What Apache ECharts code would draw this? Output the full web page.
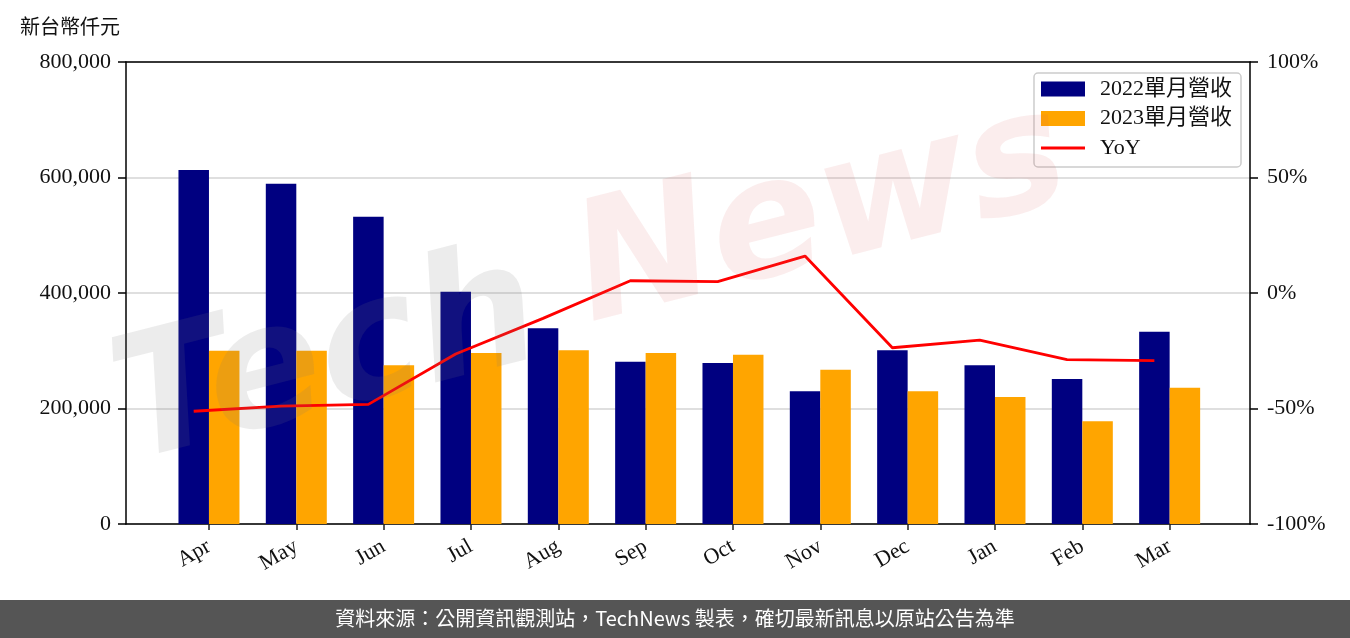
<!DOCTYPE html>
<html><head><meta charset="utf-8">
<script src="https://cdn.jsdelivr.net/npm/echarts@6/dist/echarts.min.js"></script>
<style>html,body{margin:0;padding:0;background:#fff}#c{width:1350px;height:638px}</style>
</head><body><div id="c"></div>
<script>
const months = ['Apr','May','Jun','Jul','Aug','Sep','Oct','Nov','Dec','Jan','Feb','Mar'];
const rev2022 = [613000, 589000, 532000, 402000, 339000, 281000, 279000, 230000, 301000, 275000, 251000, 333000];
const rev2023 = [300000, 300000, 275000, 296000, 301000, 296000, 293000, 267000, 230000, 220000, 178000, 236000];
const yoy = [-51.2, -49.0, -48.2, -26.4, -11.0, 5.3, 4.9, 16.0, -23.7, -20.4, -28.8, -29.3];
const leftTicks = [0, 200000, 400000, 600000, 800000];
const rightTicks = [-100, -50, 0, 50, 100];
const seriesNames = ['2022單月營收', '2023單月營收', 'YoY'];

const LATIN = "'Liberation Serif', 'Noto Sans CJK TC', serif";
const LINE_SHIFT = -0.175; // YoY points sit over the 2022 bar centres
const idx = months.map((m, i) => i);

function commas(v) { return String(v).replace(/\B(?=(\d{3})+(?!\d))/g, ','); }

const chart = echarts.init(document.getElementById('c'), null, {renderer: 'canvas'});
chart.setOption({
  animation: false,
  backgroundColor: '#ffffff',
  grid: {left: 126, right: 100, top: 62, bottom: 114, containLabel: false},
  legend: {
    right: 109, top: 73, orient: 'vertical',
    itemWidth: 44, itemHeight: 15, itemGap: 7.5,
    padding: [5, 9, 8, 7],
    borderColor: '#cccccc', borderWidth: 1.5, borderRadius: 4,
    backgroundColor: 'rgba(255,255,255,0.8)',
    symbolKeepAspect: true,
    textStyle: {fontFamily: LATIN, fontSize: 22, color: '#111', padding: [0, 0, 0, 10]},
    data: [
      {name: seriesNames[0], icon: 'rect'},
      {name: seriesNames[1], icon: 'rect'},
      {name: seriesNames[2], icon: 'path://M0,0H44V3H0Z'}
    ]
  },
  xAxis: [{
    type: 'value', min: -0.95, max: 11.92, position: 'bottom',
    axisLine: {show: true, onZero: false, lineStyle: {color: '#000', width: 1.5}},
    axisTick: {show: true, customValues: idx, length: 6, lineStyle: {color: '#222', width: 1.5}},
    axisLabel: {customValues: idx, formatter: v => months[Math.round(v)], rotate: 30, margin: 21,
      fontFamily: LATIN, fontSize: 22, color: '#111'},
    splitLine: {show: false}
  }, {
    type: 'value', min: -0.95, max: 11.92, position: 'top',
    axisLine: {show: true, onZero: false, lineStyle: {color: '#000', width: 1.5}},
    axisTick: {show: false}, axisLabel: {show: false}, splitLine: {show: false}
  }],
  yAxis: [{
    type: 'value', min: leftTicks[0], max: leftTicks[leftTicks.length - 1], interval: 200000, position: 'left',
    axisLine: {show: true, onZero: false, lineStyle: {color: '#000', width: 1.5}},
    axisTick: {show: true, length: 8, lineStyle: {color: '#000', width: 1.5}},
    axisLabel: {formatter: v => commas(v), fontFamily: LATIN, fontSize: 22, color: '#111', margin: 15},
    splitLine: {show: true, lineStyle: {color: '#d4d4d4', width: 1.5}}
  }, {
    type: 'value', min: rightTicks[0], max: rightTicks[rightTicks.length - 1], interval: 50, position: 'right',
    axisLine: {show: true, onZero: false, lineStyle: {color: '#000', width: 1.5}},
    axisTick: {show: true, length: 8, lineStyle: {color: '#000', width: 1.5}},
    axisLabel: {formatter: v => v + '%', fontFamily: LATIN, fontSize: 22, color: '#111', margin: 17},
    splitLine: {show: false}
  }],
  series: [{
    name: seriesNames[0], type: 'bar', xAxisIndex: 0, yAxisIndex: 0,
    barWidth: 30.5, barGap: '0%',
    itemStyle: {color: '#000080'},
    data: rev2022.map((v, i) => [i, v])
  }, {
    name: seriesNames[1], type: 'bar', xAxisIndex: 0, yAxisIndex: 0,
    barWidth: 30.5, barGap: '0%',
    itemStyle: {color: '#FFA500'},
    data: rev2023.map((v, i) => [i, v])
  }, {
    name: seriesNames[2], type: 'line', xAxisIndex: 0, yAxisIndex: 1,
    symbol: 'none', showSymbol: false, z: 5,
    lineStyle: {color: '#FF0000', width: 2.8},
    itemStyle: {color: '#FF0000'},
    data: yoy.map((v, i) => [i + LINE_SHIFT, v])
  }],
  graphic: [
    {type: 'text', left: 20, top: 16, z: 10,
      style: {text: '新台幣仟元', fontFamily: "'Noto Sans CJK TC', sans-serif", fontSize: 20, fill: '#111'}},
    {type: 'text', x: 140, y: 500, rotation: 0.25, z: 100, silent: true,
      style: {text: 'Tech', fontFamily: "'DejaVu Sans'", fontStyle: 'italic', fontWeight: 'bold', fontSize: 170,
        fill: 'rgba(120,120,120,0.14)', textVerticalAlign: 'bottom'}},
    {type: 'text', x: 600, y: 360, rotation: 0.25, z: 100, silent: true,
      style: {text: 'News', fontFamily: "'DejaVu Sans'", fontStyle: 'italic', fontWeight: 'bold', fontSize: 165,
        fill: 'rgba(215,90,90,0.11)', textVerticalAlign: 'bottom'}},
    {type: 'rect', left: 0, top: 600, z: 10,
      shape: {width: 1350, height: 38}, style: {fill: '#555555'}},
    {type: 'text', left: 'center', top: 608, z: 11,
      style: {text: '資料來源：公開資訊觀測站，TechNews 製表，確切最新訊息以原站公告為準',
        fontFamily: "'Noto Sans CJK TC', sans-serif", fontSize: 20, fill: '#ffffff'}}
  ]
});
</script>
</body></html>
